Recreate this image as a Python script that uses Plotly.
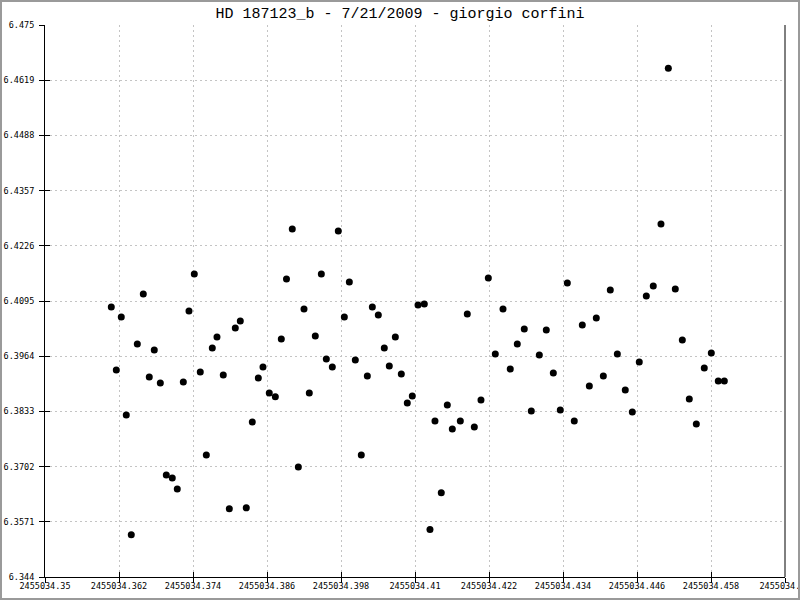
import plotly.graph_objects as go

# Julian date (HJD) observations
jd = [
    2455034.36075, 2455034.36156, 2455034.36237, 2455034.36318, 2455034.36399,
    2455034.36497, 2455034.36594, 2455034.36691, 2455034.36772, 2455034.36870,
    2455034.36967, 2455034.37064, 2455034.37145, 2455034.37243, 2455034.37335,
    2455034.37421, 2455034.37518, 2455034.37616, 2455034.37713, 2455034.37789,
    2455034.37891, 2455034.37989, 2455034.38086, 2455034.38167, 2455034.38264,
    2455034.38362, 2455034.38459, 2455034.38535, 2455034.38637, 2455034.38735,
    2455034.38832, 2455034.38916, 2455034.39010, 2455034.39108, 2455034.39200,
    2455034.39286, 2455034.39383, 2455034.39481, 2455034.39562, 2455034.39659,
    2455034.39756, 2455034.39854, 2455034.39935, 2455034.40032, 2455034.40129,
    2455034.40227, 2455034.40308, 2455034.40405, 2455034.40502, 2455034.40583,
    2455034.40681, 2455034.40778, 2455034.40875, 2455034.40956, 2455034.41049,
    2455034.41151, 2455034.41243, 2455034.41324, 2455034.41426, 2455034.41524,
    2455034.41605, 2455034.41735, 2455034.41848, 2455034.41962, 2455034.42070,
    2455034.42189, 2455034.42302, 2455034.42427, 2455034.42545, 2455034.42659,
    2455034.42772, 2455034.42886, 2455034.43016, 2455034.43129, 2455034.43243,
    2455034.43356, 2455034.43470, 2455034.43583, 2455034.43713, 2455034.43827,
    2455034.43940, 2455034.44054, 2455034.44167, 2455034.44281, 2455034.44410,
    2455034.44524, 2455034.44637, 2455034.44751, 2455034.44864, 2455034.44989,
    2455034.45108, 2455034.45221, 2455034.45335, 2455034.45448, 2455034.45562,
    2455034.45691, 2455034.45805, 2455034.45918, 2455034.46016,
]

# magnitudes
mag = [
    6.40807, 6.39313, 6.40570, 6.38246, 6.35401,
    6.39929, 6.41115, 6.39147, 6.39787, 6.39005,
    6.36823, 6.36752, 6.36491, 6.39028, 6.40712,
    6.41589, 6.39265, 6.37298, 6.39835, 6.40095,
    6.39194, 6.36017, 6.40309, 6.40475, 6.36041,
    6.38080, 6.39123, 6.39384, 6.38768, 6.38680,
    6.40050, 6.41471, 6.42656, 6.37013, 6.40759,
    6.38768, 6.40119, 6.41589, 6.39574, 6.39384,
    6.42609, 6.40570, 6.41399, 6.39550, 6.37298,
    6.39171, 6.40807, 6.40617, 6.39835, 6.39408,
    6.40095, 6.39218, 6.38531, 6.38697, 6.40854,
    6.40878, 6.35526, 6.38104, 6.36397, 6.38483,
    6.37914, 6.38104, 6.40641, 6.37961, 6.38602,
    6.41494, 6.39692, 6.40759, 6.39337, 6.39929,
    6.40285, 6.38341, 6.39669, 6.40261, 6.39242,
    6.38365, 6.41376, 6.38104, 6.40380, 6.38934,
    6.40546, 6.39171, 6.41210, 6.39692, 6.38839,
    6.38317, 6.39503, 6.41068, 6.41305, 6.42775,
    6.46473, 6.41233, 6.40024, 6.38625, 6.38033,
    6.39360, 6.39716, 6.39052, 6.39052,
]

x_tickvals = [2455034.35, 2455034.362, 2455034.374, 2455034.386, 2455034.398,
              2455034.41, 2455034.422, 2455034.434, 2455034.446, 2455034.458,
              2455034.47]
x_ticktext = ["2455034.35", "2455034.362", "2455034.374", "2455034.386",
              "2455034.398", "2455034.41", "2455034.422", "2455034.434",
              "2455034.446", "2455034.458", "2455034.47"]
y_tickvals = [6.344, 6.3571, 6.3702, 6.3833, 6.3964, 6.4095, 6.4226, 6.4357,
              6.4488, 6.4619, 6.475]
y_ticktext = ["6.344", "6.3571", "6.3702", "6.3833", "6.3964", "6.4095",
              "6.4226", "6.4357", "6.4488", "6.4619", "6.475"]

title_text = "HD 187123_b - 7/21/2009 - giorgio corfini"

EPS_X = 1e-7
EPS_Y = 1e-7
XR = [x_tickvals[0] - EPS_X, x_tickvals[-1] + EPS_X]
YR = [y_tickvals[0] - EPS_Y, y_tickvals[-1] + EPS_Y]

tick_font = dict(family="DejaVu Sans Mono", size=8.5, color="black")

fig = go.Figure()
fig.add_trace(go.Scatter(
    x=jd, y=mag, mode="markers",
    marker=dict(color="black", size=7, line=dict(width=0)),
    showlegend=False, hoverinfo="x+y",
))
# helper (empty) trace to enable the overlay axes used for inner tick halves
fig.add_trace(go.Scatter(x=[], y=[], xaxis="x2", yaxis="y2", showlegend=False))

grid = dict(showgrid=True, gridcolor="#c4c4c4", gridwidth=1, griddash="2px,3px")

fig.update_layout(
    width=800, height=600,
    paper_bgcolor="white", plot_bgcolor="white",
    margin=dict(l=45, r=15, t=25, b=23, autoexpand=False),
    title=dict(text=title_text, x=0.5, xanchor="center", y=1 - 13 / 600,
               yanchor="middle",
               font=dict(family="Liberation Mono", size=15, color="black")),
    xaxis=dict(range=XR, tickvals=x_tickvals, ticktext=x_ticktext,
               ticks="outside", ticklen=5, tickcolor="black", tickwidth=1,
               showline=True, linecolor="black", linewidth=1, automargin=False,
               ticklabeloverflow="allow", ticklabelstandoff=-4,
               zeroline=False, tickfont=tick_font, **grid),
    yaxis=dict(range=YR, tickvals=y_tickvals, ticktext=y_ticktext,
               ticks="outside", ticklen=5, tickcolor="black", tickwidth=1,
               showline=True, linecolor="black", linewidth=1, mirror=False,
               automargin=False, ticklabelstandoff=3,
               zeroline=False, tickfont=tick_font, **grid),
    xaxis2=dict(overlaying="x", anchor="y", side="bottom", range=XR,
                tickvals=x_tickvals, showticklabels=False, ticks="inside",
                ticklen=5, tickcolor="black", showgrid=False, zeroline=False,
                showline=False, automargin=False),
    yaxis2=dict(overlaying="y", anchor="x", side="left", range=YR,
                tickvals=y_tickvals, showticklabels=False, ticks="inside",
                ticklen=5, tickcolor="black", showgrid=False, zeroline=False,
                showline=False, automargin=False),
)

# right-hand frame line
fig.add_shape(type="line", xref="paper", yref="paper", x0=1, x1=1, y0=0, y1=1,
              line=dict(color="black", width=1))
# outer grey border of the image
fig.add_shape(type="rect", xref="paper", yref="paper",
              x0=(1 - 45) / 740, x1=(799 - 45) / 740,
              y0=(577 - 599) / 552, y1=(577 - 1) / 552,
              line=dict(color="#9a9a9a", width=2), fillcolor="rgba(0,0,0,0)",
              layer="above")

fig.write_html("out.html",
               config={"displayModeBar": False},
               post_script="document.body.style.margin='0';"
                           "document.body.style.overflow='hidden';")
